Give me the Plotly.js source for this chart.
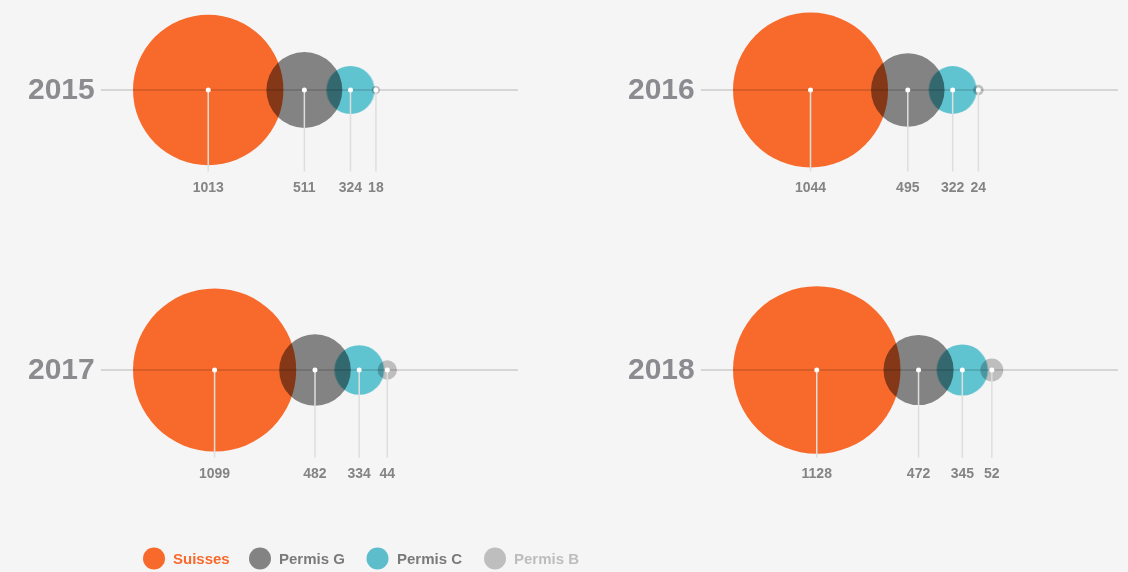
<!DOCTYPE html>
<html>
<head>
<meta charset="utf-8">
<script src="https://cdn.plot.ly/plotly-3.0.1.min.js"></script>
<style>
html,body{margin:0;padding:0;background:#f5f5f5;overflow:hidden;}
#chart{width:1128px;height:572px;}
/* Permis C circles blend (multiply) like the original graphic */
.scatterlayer .trace:nth-child(3) path.point{mix-blend-mode:multiply;}
</style>
</head>
<body>
<div id="chart"></div>
<script>
// ---------------- DATA ----------------
const years    = ['2015', '2016', '2017', '2018'];
const suisses  = [1013, 1044, 1099, 1128];
const permisG  = [511, 495, 482, 472];
const permisC  = [324, 322, 334, 345];
const permisB  = [18, 24, 44, 52];
const seriesNames = ['Suisses', 'Permis G', 'Permis C', 'Permis B'];

// ---------------- STYLE / LAYOUT CONSTANTS ----------------
const circleColors = ['#F76A2C', 'rgba(0,0,0,0.465)', '#60C3D0', 'rgba(0,0,0,0.225)'];
const legendColors = ['#F76A2C', '#838383', '#5DBDCA', '#BEBEBE'];
const legendTextColors = ['#F76A2C', '#7a7a7a', '#7a7a7a', '#bdbdbd'];
const PX_PER_UNIT = 0.1485;      // diameter px per person (main series)
const PX_PER_UNIT_B = 0.44;      // diameter px per person (Permis B, drawn on its own scale)
const panelX = [0, 600, 0, 600];
const panelY = [90, 90, 370, 370];
const circleLeft = 133;          // left edge of first circle inside a panel
const lineStart = 101, lineEnd = 518;
const legendY = 558.5;
const legendMarkerX = [154, 260, 377.5, 495];

// ---------------- GEOMETRY (derived from values) ----------------
const series = [suisses, permisG, permisC, permisB];
const scales = [PX_PER_UNIT, PX_PER_UNIT, PX_PER_UNIT, PX_PER_UNIT_B];
const centers = years.map(() => []);  // centers[yearIdx][seriesIdx]
const radii = years.map(() => []);
years.forEach((y, i) => {
  let prevC = null, prevR = null;
  series.forEach((s, k) => {
    const r = s[i] * scales[k] / 2;
    let c;
    if (prevC === null) c = panelX[i] + circleLeft + r;
    else c = prevC + prevR + r - Math.min(17, 0.66 * r);
    centers[i].push(c); radii[i].push(r);
    prevC = c; prevR = r;
  });
});
// drop-line end: below the largest circle of the row
const dropEnd = years.map((y, i) => {
  const rowMax = Math.max(...years.map((yy, j) => panelY[j] === panelY[i] ? radii[j][0] : 0));
  return panelY[i] + rowMax + 4;
});

// ---------------- TRACES ----------------
const traces = [];
series.forEach((s, k) => {
  traces.push({
    type: 'scatter', mode: 'markers',
    x: years.map((y, i) => centers[i][k]),
    y: years.map((y, i) => panelY[i]),
    marker: {
      size: s, sizemode: 'diameter', sizeref: 1 / scales[k], opacity: 1,
      color: circleColors[k], line: {width: 0}
    },
    hoverinfo: 'skip', showlegend: false
  });
});
// horizontal baselines
const hx = [], hy = [];
years.forEach((y, i) => { hx.push(panelX[i] + lineStart, panelX[i] + lineEnd, null); hy.push(panelY[i], panelY[i], null); });
traces.push({type: 'scatter', mode: 'lines', x: hx, y: hy,
  line: {color: 'rgba(0,0,0,0.17)', width: 1.5}, hoverinfo: 'skip', showlegend: false});
// drop lines
const dx = [], dy = [];
years.forEach((y, i) => series.forEach((s, k) => {
  dx.push(centers[i][k], centers[i][k], null); dy.push(panelY[i], dropEnd[i], null);
}));
traces.push({type: 'scatter', mode: 'lines', x: dx, y: dy,
  line: {color: '#dedede', width: 1.5}, hoverinfo: 'skip', showlegend: false});
// white centre dots
const cx = [], cy = [];
years.forEach((y, i) => series.forEach((s, k) => { cx.push(centers[i][k]); cy.push(panelY[i]); }));
traces.push({type: 'scatter', mode: 'markers', x: cx, y: cy,
  marker: {size: 5, color: '#ffffff', opacity: 1, line: {width: 0}}, hoverinfo: 'skip', showlegend: false});
// value labels
const tx = [], ty = [], tt = [];
years.forEach((y, i) => series.forEach((s, k) => {
  tx.push(centers[i][k]); ty.push(dropEnd[i] + 16.5); tt.push(String(s[i]));
}));
traces.push({type: 'scatter', mode: 'text', x: tx, y: ty, text: tt,
  textposition: 'middle center',
  textfont: {family: 'Liberation Sans, Arial, sans-serif', size: 14, color: '#848484', weight: 'bold'},
  hoverinfo: 'skip', showlegend: false});
// legend circles
traces.push({type: 'scatter', mode: 'markers', x: legendMarkerX, y: seriesNames.map(() => legendY),
  marker: {size: 22, color: legendColors, opacity: 1, line: {width: 0}}, hoverinfo: 'skip', showlegend: false});

// ---------------- ANNOTATIONS ----------------
const annotations = [];
years.forEach((y, i) => annotations.push({
  xref: 'x', yref: 'y', x: panelX[i] + 97, y: panelY[i] - 1.5, text: '<b>' + y + '</b>',
  showarrow: false, xanchor: 'right', yanchor: 'middle',
  font: {family: 'Liberation Sans, Arial, sans-serif', size: 30, color: '#8b8b90'}
}));
seriesNames.forEach((n, k) => annotations.push({
  xref: 'x', yref: 'y', x: legendMarkerX[k] + 17, y: legendY, text: '<b>' + n + '</b>',
  showarrow: false, xanchor: 'left', yanchor: 'middle',
  font: {family: 'Liberation Sans, Arial, sans-serif', size: 15, color: legendTextColors[k]}
}));

const layout = {
  width: 1128, height: 572,
  margin: {l: 0, r: 0, t: 0, b: 0, pad: 0},
  paper_bgcolor: '#f5f5f5', plot_bgcolor: '#f5f5f5',
  xaxis: {range: [0, 1128], visible: false, fixedrange: true},
  yaxis: {range: [572, 0], visible: false, fixedrange: true},
  annotations: annotations,
  showlegend: false
};

Plotly.newPlot('chart', traces, layout, {displayModeBar: false, staticPlot: true});
</script>
</body>
</html>
